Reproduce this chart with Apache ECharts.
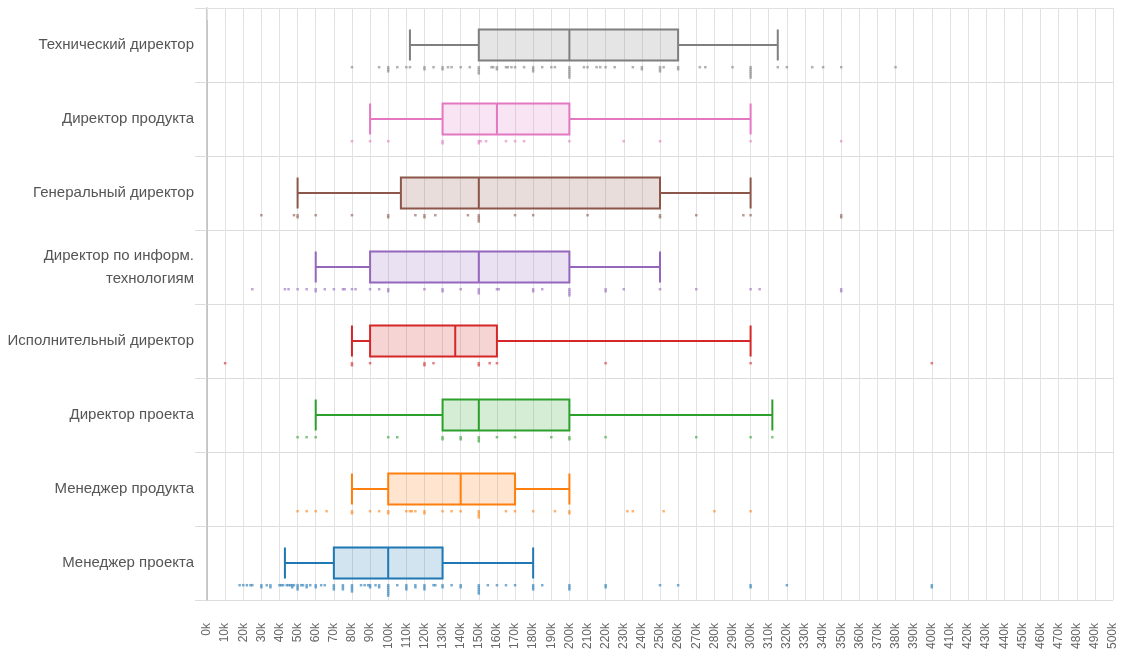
<!DOCTYPE html>
<html>
<head>
<meta charset="utf-8">
<script src="https://cdn.jsdelivr.net/npm/echarts@6/dist/echarts.min.js"></script>
<style>
html,body{margin:0;padding:0;background:#fff;}
#chart{width:1125px;height:670px;}
</style>
</head>
<body>
<div id="chart"></div>
<script>
// Categories, top to bottom
const categories = [
  'Технический директор',
  'Директор продукта',
  'Генеральный директор',
  'Директор по информ.\nтехнологиям',
  'Исполнительный директор',
  'Директор проекта',
  'Менеджер продукта',
  'Менеджер проекта'
];
const colors = ['#7f7f7f','#e377c2','#8c564b','#9467bd','#d62728','#2ca02c','#ff7f0e','#1f77b4'];

// Box statistics (thousands): [min, Q1, median, Q3, max]
const boxTechDir   = [112, 150, 200, 260, 315];
const boxProdDir   = [90, 130, 160, 200, 300];
const boxCEO       = [50, 107, 150, 250, 300];
const boxCIO       = [60, 90, 150, 200, 250];
const boxExecDir   = [80, 90, 137, 160, 300];
const boxProjDir   = [60, 130, 150, 200, 312];
const boxProdMgr   = [80, 100, 140, 170, 200];
const boxProjMgr   = [43, 70, 100, 130, 180];

// Individual salary points (thousands): [value, count]
const ptsTechDir = [[80,1],[95,1],[100,3],[105,1],[110,1],[112,1],[120,2],[125,1],[130,2],[133,1],[135,1],[140,1],[145,1],[150,4],[157,1],[158,1],[160,2],[165,1],[166,1],[168,1],[170,1],[175,1],[180,3],[185,1],[190,1],[192,1],[200,6],[208,1],[210,1],[215,1],[217,1],[220,1],[225,1],[235,1],[240,2],[250,3],[252,1],[260,2],[272,1],[275,1],[290,1],[300,6],[315,1],[320,1],[334,1],[340,1],[350,1],[380,1]];
const ptsProdDir = [[80,1],[90,1],[100,1],[130,2],[150,2],[151,1],[154,1],[165,1],[170,1],[175,1],[200,1],[230,1],[250,1],[300,1],[350,1]];
const ptsCEO     = [[30,1],[48,1],[50,2],[60,1],[80,1],[100,2],[115,1],[120,2],[126,1],[144,1],[150,4],[170,1],[180,1],[210,1],[250,2],[270,1],[296,1],[300,1],[350,2]];
const ptsCIO     = [[25,1],[43,1],[45,1],[50,1],[55,1],[60,2],[65,1],[70,1],[75,1],[76,1],[80,1],[82,1],[90,1],[95,1],[100,2],[120,1],[130,2],[140,1],[150,3],[160,1],[161,1],[180,2],[185,1],[200,4],[220,2],[230,1],[250,1],[270,1],[300,1],[305,1],[350,2]];
const ptsExecDir = [[10,1],[80,2],[90,1],[120,2],[125,1],[150,2],[156,1],[160,1],[220,1],[300,1],[400,1]];
const ptsProjDir = [[50,1],[55,1],[60,1],[100,1],[105,1],[130,2],[140,2],[150,3],[160,1],[170,1],[190,1],[200,2],[220,1],[270,1],[300,1],[312,1]];
const ptsProdMgr = [[50,1],[55,1],[60,1],[66,1],[80,2],[90,1],[95,1],[100,2],[110,1],[112,1],[113,1],[115,1],[120,2],[130,1],[135,1],[140,1],[150,4],[165,1],[170,1],[180,1],[192,1],[200,2],[232,1],[235,1],[252,1],[280,1],[300,1]];
const ptsProjMgr = [[18,1],[20,1],[22,1],[24,1],[25,1],[30,2],[33,1],[35,2],[40,1],[41,1],[42,1],[44,1],[45,1],[46,1],[47,2],[48,1],[50,3],[52,1],[53,1],[55,2],[57,1],[60,2],[63,1],[65,1],[70,3],[75,3],[80,4],[85,1],[87,1],[89,1],[90,2],[93,1],[95,2],[100,6],[105,1],[110,3],[115,2],[120,3],[125,1],[126,1],[130,2],[135,1],[140,2],[150,5],[155,1],[160,1],[165,1],[170,1],[180,3],[185,1],[200,3],[220,2],[250,1],[260,1],[300,2],[320,1],[400,2]];

// X axis ticks (thousands)
const xMin = 0, xMax = 500, xStep = 10;
const tickSuffix = 'k';

const boxes = [boxTechDir, boxProdDir, boxCEO, boxCIO, boxExecDir, boxProjDir, boxProdMgr, boxProjMgr];
const points = [ptsTechDir, ptsProdDir, ptsCEO, ptsCIO, ptsExecDir, ptsProjDir, ptsProdMgr, ptsProjMgr];

function hexA(hex, a){
  const n = parseInt(hex.slice(1),16);
  return 'rgba(' + ((n>>16)&255) + ',' + ((n>>8)&255) + ',' + (n&255) + ',' + a + ')';
}

const boxData = boxes.map((b,i)=>({
  value: b,
  itemStyle: { color: hexA(colors[i],0.2), borderColor: colors[i], borderWidth: 2 }
}));

const ROW_OFFSET = 0.30, STACK_STEP = 0.028;
const scatterSeries = points.map((pts,i)=>{
  const data = [];
  pts.forEach(([v,c])=>{
    for(let k=0;k<c;k++) data.push([v, i + 0.5 + ROW_OFFSET + k*STACK_STEP]);
  });
  return {
    type:'scatter', xAxisIndex:0, yAxisIndex:1,
    symbol:'rect', symbolSize:[2.5,2.5],
    itemStyle:{ color: colors[i], opacity:0.6 },
    data, silent:true, z:3
  };
});

const chart = echarts.init(document.getElementById('chart'));
chart.setOption({
  animation:false,
  textStyle:{ fontFamily:'"Liberation Sans", Arial, sans-serif' },
  grid:{ left:207, right:12, top:8, bottom:70, containLabel:false },
  xAxis:{
    type:'value', min:xMin, max:xMax, interval:xStep,
    axisLine:{ show:true, lineStyle:{ color:'#e0e0e0' } },
    axisTick:{ show:true, length:12, lineStyle:{ color:'#e0e0e0' } },
    splitLine:{ show:true, lineStyle:{ color:'#e3e3e3', width:1 } },
    axisLabel:{ rotate:90, margin:23, fontSize:12, color:'#666', formatter: v => v + tickSuffix }
  },
  yAxis:[{
    type:'category', data:categories, inverse:true,
    axisLine:{ show:true, lineStyle:{ color:'#bbb', width:1.5 } },
    axisTick:{ show:true, length:12, lineStyle:{ color:'#ddd' } },
    splitLine:{ show:true, lineStyle:{ color:'#dcdcdc' } },
    axisLabel:{ fontSize:15, color:'#555', margin:13, lineHeight:23, align:'right' }
  },{
    type:'value', min:0, max:categories.length, inverse:true, show:false,
    splitLine:{show:false}
  }],
  series:[{
    type:'boxplot', yAxisIndex:0, xAxisIndex:0,
    boxWidth:[31,31],
    data: boxData, z:2
  }].concat(scatterSeries)
});
</script>
</body>
</html>
